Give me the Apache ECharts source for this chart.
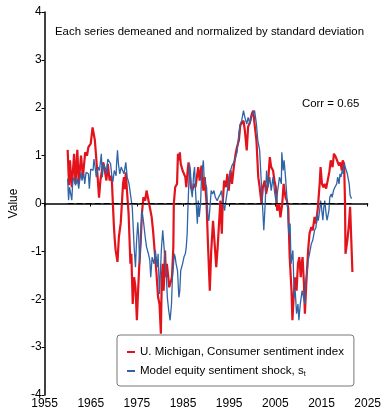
<!DOCTYPE html>
<html><head><meta charset="utf-8">
<script src="https://cdn.jsdelivr.net/npm/echarts@6/dist/echarts.min.js"></script>
<style>html,body{margin:0;padding:0;background:#fff}#c{width:384px;height:412px}</style>
</head><body><div id="c"></div>
<script>
const xTicks = [1955, 2025, 10];
const yTicks = [-4, 4, 1];
const redName = 'U. Michigan, Consumer sentiment index';
const blueName = 'Model equity sentiment shock, s';
const zeroLine = [[1960, 0], [2021.5, 0]];
const michigan = [
[1960.0,1.12],[1960.3,0.38],[1960.5,0.90],[1960.9,0.34],[1961.4,1.04],[1961.7,0.41],[1962.1,1.12],[1962.4,0.41],
[1962.9,1.00],[1963.3,0.55],[1963.8,1.07],[1964.2,1.00],[1964.5,1.18],[1965.0,1.25],[1965.4,1.59],[1965.9,1.32],
[1966.4,0.69],[1966.8,0.12],[1967.1,0.48],[1967.7,0.86],[1968.0,0.72],[1968.4,0.48],[1968.7,0.83],[1969.1,0.48],
[1969.4,0.58],[1969.6,0.44],[1970.0,-0.43],[1970.2,-0.75],[1970.4,-0.98],[1970.8,-1.22],[1971.1,-0.70],[1971.5,-0.41],
[1971.9,-0.39],[1972.0,0.41],[1972.2,0.55],[1972.4,0.30],[1972.6,0.65],[1972.8,0.34],[1973.2,-0.20],[1973.6,-1.26],
[1973.8,-1.05],[1974.1,-2.10],[1974.4,-1.54],[1974.7,-1.75],[1975.0,-2.44],[1975.2,-1.96],[1975.5,-1.33],[1975.8,-0.84],
[1976.1,-0.20],[1976.4,0.13],[1976.8,0.06],[1977.1,0.27],[1977.5,0.30],[1977.8,-0.08],[1978.2,-0.28],[1978.5,-0.56],
[1978.9,-1.05],[1979.2,-1.40],[1979.6,-1.96],[1979.9,-2.10],[1980.2,-2.72],[1980.4,-1.54],[1980.6,-1.26],[1980.8,-1.82],
[1981.1,-0.98],[1981.3,-1.54],[1981.5,-1.26],[1981.8,-1.54],[1982.0,-1.75],[1982.3,-1.75],[1982.6,-1.54],[1982.9,-0.91],
[1983.0,-0.01],[1983.3,0.34],[1983.6,0.37],[1983.7,0.41],[1983.9,1.04],[1984.1,0.90],[1984.3,1.07],[1984.5,0.83],
[1984.9,0.69],[1985.1,0.66],[1985.5,0.55],[1985.7,0.34],[1986.0,0.69],[1986.2,0.86],[1986.5,0.55],[1986.7,0.34],
[1987.0,0.27],[1987.4,0.41],[1987.7,0.34],[1988.0,0.55],[1988.3,0.76],[1988.6,0.48],[1989.0,0.79],[1989.4,0.27],
[1989.7,0.55],[1990.1,0.00],[1990.4,-0.84],[1990.8,-1.82],[1991.1,-1.00],[1991.5,-0.36],[1991.9,-0.91],[1992.2,-1.33],
[1992.5,-0.91],[1992.8,-0.42],[1993.1,0.06],[1993.4,-0.63],[1993.6,0.00],[1993.9,0.48],[1994.3,0.34],[1994.6,0.62],
[1994.9,0.27],[1995.3,0.69],[1995.6,0.41],[1996.0,0.76],[1996.4,1.04],[1996.7,1.18],[1997.1,1.32],[1997.4,1.63],
[1997.7,1.60],[1998.1,1.73],[1998.4,1.52],[1998.8,1.11],[1999.1,1.60],[1999.5,1.70],[1999.9,1.87],[2000.2,1.94],
[2000.5,1.66],[2000.9,1.32],[2001.3,0.55],[2001.6,0.34],[2002.0,0.00],[2002.3,0.34],[2002.7,0.48],[2003.0,0.20],
[2003.4,0.41],[2003.8,0.97],[2004.1,0.76],[2004.5,0.69],[2004.8,0.48],[2005.1,0.34],[2005.4,-0.15],[2005.8,0.00],
[2006.1,-0.29],[2006.5,0.00],[2006.8,0.41],[2007.2,0.13],[2007.5,0.06],[2007.8,-0.10],[2008.1,-1.10],[2008.5,-1.82],
[2008.7,-2.44],[2009.0,-1.90],[2009.3,-1.54],[2009.6,-1.82],[2009.9,-1.26],[2010.2,-1.12],[2010.5,-1.54],[2010.7,-1.26],
[2010.9,-1.12],[2011.2,-1.68],[2011.4,-2.30],[2011.7,-1.68],[2012.1,-0.98],[2012.4,-0.63],[2012.8,-0.49],[2013.1,-0.56],
[2013.5,-0.28],[2013.8,-0.42],[2014.2,-0.10],[2014.6,0.41],[2014.8,0.76],[2015.1,0.41],[2015.4,0.34],[2015.7,0.41],
[2016.0,0.31],[2016.4,0.34],[2016.7,0.66],[2017.0,0.90],[2017.4,0.76],[2017.7,1.04],[2018.1,0.97],[2018.4,1.00],
[2018.8,0.79],[2019.1,0.86],[2019.4,0.69],[2019.6,0.90],[2019.9,0.83],[2020.1,0.00],[2020.2,-1.05],[2020.6,-0.77],
[2020.9,-0.49],[2021.2,-0.07],[2021.7,-1.43]
];
const equityShock = [
[1960.0,0.52],[1960.2,0.07],[1960.4,0.34],[1960.6,0.31],[1960.9,0.07],[1961.1,0.45],[1961.4,0.55],[1961.7,0.38],
[1962.1,0.52],[1962.4,0.31],[1962.6,0.48],[1962.9,0.65],[1963.1,0.48],[1963.5,0.62],[1963.7,0.41],[1964.0,0.65],
[1964.2,0.69],[1964.5,0.62],[1964.7,0.31],[1965.0,0.72],[1965.3,0.76],[1965.5,0.69],[1965.7,0.93],[1966.0,0.72],
[1966.2,0.55],[1966.6,0.76],[1966.9,0.69],[1967.3,1.04],[1967.5,0.55],[1967.8,0.83],[1968.2,0.72],[1968.4,0.62],
[1968.7,0.93],[1969.1,0.97],[1969.3,0.83],[1969.6,0.55],[1969.8,0.45],[1970.1,0.69],[1970.5,0.58],[1970.6,0.83],
[1970.8,1.11],[1971.0,0.83],[1971.3,0.62],[1971.6,0.76],[1971.9,0.69],[1972.2,0.62],[1972.6,0.86],[1972.9,0.55],
[1973.3,0.41],[1973.6,0.45],[1974.0,-0.08],[1974.2,-0.49],[1974.4,-0.91],[1974.7,-1.33],[1974.9,-0.84],[1975.2,-0.39],
[1975.4,-0.70],[1975.6,-1.26],[1975.9,-0.63],[1976.1,-0.14],[1976.4,-0.35],[1976.8,-0.70],[1977.1,-0.91],[1977.5,-1.05],
[1977.8,-1.19],[1978.0,-1.54],[1978.3,-1.12],[1978.7,-1.26],[1979.0,-0.98],[1979.4,-1.33],[1979.6,-1.05],[1979.9,-1.89],
[1980.3,-0.98],[1980.6,-0.56],[1981.0,-1.05],[1981.4,-1.54],[1981.6,-1.96],[1981.9,-2.24],[1982.2,-2.44],[1982.5,-2.10],
[1982.7,-1.54],[1982.9,-1.33],[1983.1,-1.05],[1983.3,-1.12],[1983.5,-1.26],[1983.8,-1.40],[1984.1,-1.96],[1984.3,-1.82],
[1984.5,-1.40],[1984.9,-1.26],[1985.2,-1.12],[1985.5,-1.05],[1985.7,-0.91],[1985.9,-0.63],[1986.0,-0.28],[1986.2,0.27],
[1986.4,0.83],[1986.6,0.69],[1986.8,0.27],[1987.0,0.13],[1987.3,0.62],[1987.5,0.76],[1987.7,0.27],[1987.9,-0.07],
[1988.1,-0.42],[1988.3,0.06],[1988.5,-0.28],[1988.8,0.00],[1989.0,0.55],[1989.4,0.90],[1989.6,0.48],[1989.9,0.48],
[1990.1,0.34],[1990.4,-0.29],[1990.6,-0.36],[1990.9,0.00],[1991.1,0.27],[1991.4,0.20],[1991.7,0.27],[1992.0,0.13],
[1992.4,0.06],[1992.7,0.13],[1993.1,0.20],[1993.3,0.27],[1993.6,0.06],[1994.0,-0.15],[1994.2,0.00],[1994.6,0.27],
[1994.9,0.48],[1995.3,0.69],[1995.6,0.79],[1996.0,0.86],[1996.4,0.97],[1996.7,1.07],[1997.1,1.46],[1997.4,1.66],
[1997.7,1.73],[1998.1,1.94],[1998.4,1.80],[1998.8,1.66],[1999.1,1.80],[1999.5,1.66],[1999.8,1.80],[2000.2,1.83],
[2000.5,1.94],[2000.9,1.66],[2001.2,1.32],[2001.6,1.11],[2001.9,0.55],[2002.2,0.00],[2002.5,-0.56],[2002.8,0.00],
[2003.1,0.69],[2003.4,0.34],[2003.8,0.55],[2004.1,0.27],[2004.5,0.55],[2004.8,0.27],[2005.2,0.00],[2005.5,0.27],
[2005.9,0.55],[2006.3,0.41],[2006.4,1.07],[2006.7,0.69],[2006.9,0.90],[2007.2,0.55],[2007.6,0.00],[2007.9,-0.63],
[2008.2,-0.42],[2008.4,-1.26],[2008.8,-0.98],[2009.1,-1.96],[2009.3,-1.82],[2009.6,-2.30],[2009.9,-2.10],[2010.1,-2.44],
[2010.4,-2.10],[2010.8,-1.82],[2011.1,-1.82],[2011.4,-2.10],[2011.6,-1.61],[2012.0,-1.33],[2012.1,-1.19],[2012.4,-1.05],
[2012.8,-0.84],[2013.1,-0.77],[2013.5,-0.56],[2013.8,-0.50],[2014.1,-0.22],[2014.3,-0.36],[2014.6,-0.15],[2014.8,0.06],
[2015.0,-0.08],[2015.3,-0.35],[2015.5,-0.08],[2015.7,0.06],[2016.0,-0.22],[2016.2,-0.35],[2016.6,-0.15],[2016.8,0.13],
[2017.1,0.20],[2017.3,0.13],[2017.6,0.27],[2017.9,0.34],[2018.3,0.41],[2018.5,0.55],[2018.8,0.41],[2019.0,0.62],
[2019.2,0.55],[2019.5,0.69],[2019.7,0.62],[2019.9,0.83],[2020.3,0.79],[2020.6,0.62],[2020.8,0.66],[2021.0,0.41],
[2021.2,0.17],[2021.5,0.10]
];
const FONT = '"Liberation Sans", Arial, sans-serif';
const chart = echarts.init(document.getElementById('c'), null, {renderer: 'canvas'});
chart.setOption({
  animation: false,
  grid: {left: 38, right: 13, top: 12, bottom: 17, containLabel: false},
  xAxis: {
    type: 'value', min: xTicks[0], max: xTicks[1], interval: xTicks[2],
    axisLine: {lineStyle: {color: '#000', width: 1.5}},
    axisTick: {show: true, length: 3, lineStyle: {color: '#000', width: 1}},
    axisLabel: {color: '#000', fontSize: 12, fontFamily: FONT, margin: 3, formatter: function (v) { return String(v); }},
    splitLine: {show: false}
  },
  yAxis: {
    type: 'value', min: yTicks[0], max: yTicks[1], interval: yTicks[2],
    name: 'Value', nameLocation: 'middle', nameGap: 22,
    nameTextStyle: {color: '#000', fontSize: 12, fontFamily: FONT},
    axisLine: {show: true, lineStyle: {color: '#000', width: 1.5}},
    axisTick: {show: true, length: 3, lineStyle: {color: '#000', width: 1}},
    axisLabel: {color: '#000', fontSize: 12, fontFamily: FONT, margin: 3},
    splitLine: {show: false}
  },
  legend: {
    data: [redName, blueName],
    orient: 'vertical', left: 117, top: 335,
    padding: [10, 10, 8, 10], itemGap: 5,
    itemWidth: 8, itemHeight: 2, icon: 'rect',
    backgroundColor: '#fff', borderColor: '#777', borderWidth: 1, borderRadius: 3,
    textStyle: {color: '#000', fontSize: 11.5, fontFamily: FONT, lineHeight: 14,
      rich: {sub: {fontSize: 7, fontFamily: FONT, color: '#000', verticalAlign: 'bottom', padding: [5, 0, 0, 0]}}},
    formatter: function (n) { return n === blueName ? n + '{sub|t}' : n; }
  },
  graphic: [
    {type: 'text', left: 55, top: 26, style: {text: 'Each series demeaned and normalized by standard deviation', fill: '#000', font: '11.4px ' + FONT}},
    {type: 'text', left: 302, top: 98, style: {text: 'Corr = 0.65', fill: '#000', font: '11.4px ' + FONT}}
  ],
  series: [
    {name: redName, type: 'line', data: michigan, symbol: 'none', color: '#e3121b',
      lineStyle: {width: 2.2, color: '#e3121b'}},
    {name: blueName, type: 'line', data: equityShock, symbol: 'none', color: '#2f65a7',
      lineStyle: {width: 1.3, color: '#2f65a7'}},
    {name: 'zero', type: 'line', data: zeroLine, symbol: 'none', silent: true,
      lineStyle: {width: 1.2, color: '#000', type: [6, 3]}}
  ]
});
</script></body></html>
